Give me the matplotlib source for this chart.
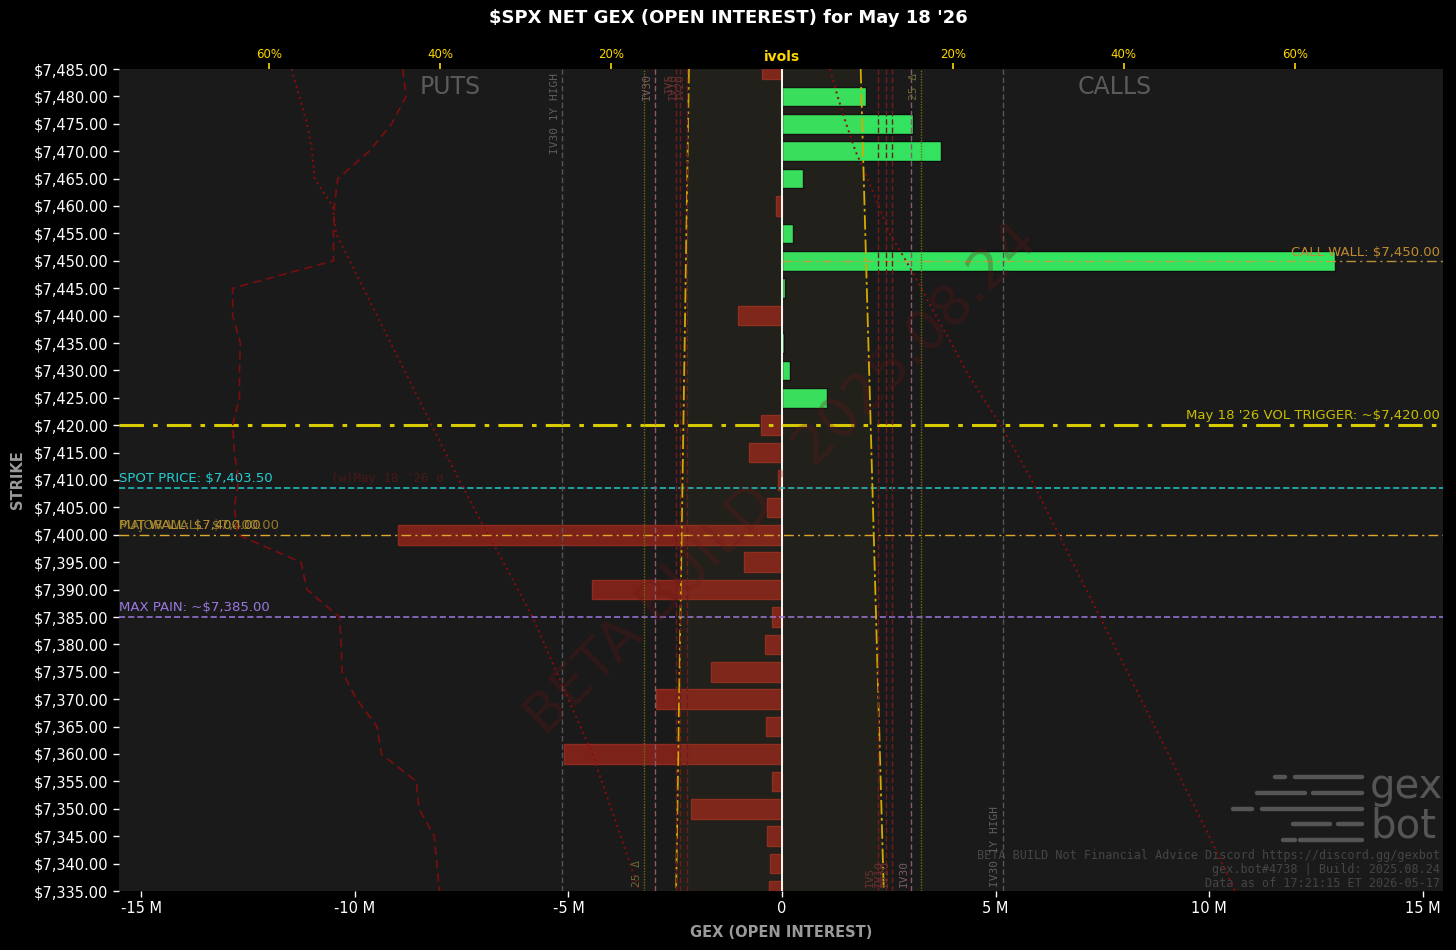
import matplotlib
matplotlib.use("Agg")
import matplotlib.pyplot as plt
from matplotlib.lines import Line2D
import numpy as np

# --- data ---
strikes = [7485, 7480, 7475, 7470, 7465, 7460, 7455, 7450, 7445, 7440, 7435, 7430, 7425,
           7420, 7415, 7410, 7405, 7400, 7395, 7390, 7385, 7380, 7375, 7370, 7365, 7360,
           7355, 7350, 7345, 7340, 7335]
net_gex_m = [-0.47, 1.97, 3.07, 3.72, 0.49, -0.14, 0.26, 12.94, 0.07, -1.03, 0.05, 0.19, 1.05,
             -0.49, -0.77, -0.09, -0.35, -8.99, -0.89, -4.45, -0.23, -0.40, -1.66, -2.95, -0.37,
             -5.10, -0.23, -2.13, -0.35, -0.28, -0.30]
# put-side iv curves (percent, drawn mirrored to the left)
put_iv_dashed = [44.4, 44.0, 45.7, 48.3, 52.0, 52.4, 52.5, 52.5, 64.3, 64.3, 63.4, 63.5, 63.5,
                 64.3, 64.1, 63.6, 64.1, 63.7, 56.3, 55.6, 51.8, 51.6, 51.5, 49.8, 47.4, 46.9,
                 42.8, 42.5, 40.7, 40.4, 40.1]
put_iv_dotted = [57.4, 56.5, 55.6, 55.0, 54.7, 52.6, 52.2, 50.6, 49.0, 47.4, 45.8, 44.2, 42.6,
                 41.0, 39.4, 37.8, 36.1, 34.4, 32.6, 30.9, 29.2, 27.8, 26.4, 25.0, 23.6, 22.2,
                 21.1, 20.0, 18.9, 17.8, 16.7]
call_iv_dotted = [5.6, 6.5, 7.5, 8.6, 10.0, 11.3, 12.6, 14.5, 16.3, 18.0, 19.8, 21.5, 23.5,
                  25.6, 27.4, 29.2, 30.8, 32.4, 34.0, 35.6, 37.2, 38.8, 40.4, 42.0, 43.6, 45.2,
                  46.8, 48.4, 50.0, 51.5, 53.0]
cone_strikes = [7485, 7335]
cone_put = [10.9, 12.4]
cone_call = [9.2, 11.9]

level_names = ["IV30 1Y HIGH", "25 Δ", "IV30", "IV5", "IV10", "IV20"]
put_levels = [25.7, 16.1, 14.9, 12.4, 11.9, 11.1]
call_levels = [25.8, 16.3, 15.1, 11.2, 12.2, 12.9]

spot_line = 7408.5
spot_label = "SPOT PRICE: $7,403.50"
put_wall = 7400
call_wall = 7450
max_pain = 7385
vol_trigger = 7420

BG = "#000000"
PANEL = "#1a1a1a"

fig = plt.figure(figsize=(14.56, 9.5), dpi=100, facecolor=BG)
ax = fig.add_axes([119 / 1456, 1 - 891 / 950, 1324 / 1456, 822 / 950])
ax.set_facecolor(PANEL)

xlim = (-15.52e6, 15.47e6)
ylim = (7335, 7485)

gex = np.array(net_gex_m) * 1e6
colors = ["#33e35f" if v >= 0 else "#7d2219" for v in gex]
edges = ["#0d0d0d" if v >= 0 else "#8e2a1f" for v in gex]
ax.barh(strikes, gex, height=3.6, color=colors, edgecolor=edges, linewidth=1, zorder=2)
ax.axvline(0, color="white", lw=1.4, zorder=4)

# horizontal levels
zero_frac = -xlim[0] / (xlim[1] - xlim[0])
ax.axhline(vol_trigger, color="#d8cc00", lw=2.2, ls=(0, (8, 3, 1.5, 3)), zorder=5)
ax.axhline(spot_line, color="#1fc8cc", lw=1.1, ls=(0, (4, 2)), zorder=5)
ax.axhline(put_wall, color="#e0a82a", lw=1.0, ls=(0, (7, 3, 1.5, 3)), zorder=5)
ax.axhline(max_pain, color="#9a78e0", lw=1.1, ls=(0, (4, 2)), zorder=5)
ax.axhline(call_wall, xmin=zero_frac, color="#c8a040", lw=1.0, ls=(0, (7, 3, 1.5, 3)),
           alpha=0.9, zorder=5)

lab = dict(fontsize=9.5, zorder=6, parse_math=False)
xl = xlim[0]
ax.text(xl, spot_line + 0.6, spot_label, color="#22d0d4", ha="left", va="bottom", **lab)
ax.text(xl, put_wall + 0.6, "PUT WALL: $7,400.00", color="#b89030", ha="left", va="bottom", **lab)
ax.text(xl, put_wall + 0.6, "MAJOR WALL: $7,400.00", color="#a88a30", ha="left", va="bottom",
        alpha=0.85, **lab)
ax.text(xl, max_pain + 0.6, "MAX PAIN: ~$7,385.00", color="#9a78e0", ha="left", va="bottom", **lab)
ax.text(xlim[1] - 0.08e6, vol_trigger + 0.6, "May 18 '26 VOL TRIGGER: ~$7,420.00",
        color="#c8be00", ha="right", va="bottom", **lab)
ax.text(xlim[1] - 0.08e6, call_wall + 0.3, "CALL WALL: $7,450.00", color="#c08a30",
        ha="right", va="bottom", **lab)
ax.text(-10.55e6, spot_line + 0.6, "(w)May 18 '26 σ", color="#4a1818", ha="left", va="bottom",
        fontsize=9, family="DejaVu Sans Mono", parse_math=False, zorder=3)

ax.text(-7.77e6, 7481.7, "PUTS", color="#5a5a5a", fontsize=17, ha="center", va="center", zorder=3)
ax.text(7.79e6, 7481.7, "CALLS", color="#5a5a5a", fontsize=17, ha="center", va="center", zorder=3)

# watermark
ax.text(0.5, 0.5, "BETA BUILD · 2025.08.24", transform=ax.transAxes, rotation=45,
        fontsize=40, color="#6a1414", alpha=0.28, ha="center", va="center",
        rotation_mode="anchor", zorder=7)

# footer
foot = dict(transform=ax.transAxes, family="DejaVu Sans Mono", fontsize=8.5, color="#454545",
            ha="right", va="center", zorder=7, parse_math=False)
ax.text(0.998, 1 - (855 - 69) / 822, "BETA BUILD Not Financial Advice Discord https://discord.gg/gexbot", **foot)
ax.text(0.998, 1 - (870 - 69) / 822, "gex.bot#4738 | Build: 2025.08.24", **foot)
ax.text(0.998, 1 - (884 - 69) / 822, "Data as of 17:21:15 ET 2026-05-17", **foot)

# gexbot logo (decoration)
logo_rows = [(777, [(1275, 1285), (1295, 1362)]),
             (793, [(1257, 1305), (1313, 1362)]),
             (809, [(1233, 1252), (1262, 1362)]),
             (824, [(1293, 1330), (1338, 1362)]),
             (840, [(1283, 1295), (1300, 1362)])]
for yy, segs in logo_rows:
    for x0, x1 in segs:
        ax.add_line(Line2D([(x0 - 119) / 1324, (x1 - 119) / 1324],
                           [1 - (yy - 69) / 822] * 2, transform=ax.transAxes,
                           color="#555555", lw=3.2, solid_capstyle="round", zorder=7))
ax.text((1370 - 119) / 1324, 1 - (787 - 69) / 822, "gex", transform=ax.transAxes, fontsize=29,
        color="#555555", ha="left", va="center", zorder=7)
ax.text((1370 - 119) / 1324, 1 - (826 - 69) / 822, "bot", transform=ax.transAxes, fontsize=29,
        color="#555555", ha="left", va="center", zorder=7)

ax.set_xlim(*xlim)
ax.set_ylim(*ylim)
ax.set_yticks(strikes)
ax.set_yticklabels([f"\\${s:,.2f}" for s in strikes])
xt = np.arange(-15, 16, 5)
ax.set_xticks(xt * 1e6)
ax.set_xticklabels([f"{v} M" if v != 0 else "0" for v in xt])
ax.tick_params(colors="white", labelsize=10.5, length=4, width=1)
for s in ax.spines.values():
    s.set_visible(False)
ax.set_xlabel("GEX (OPEN INTEREST)", color="#9a9a9a", fontsize=10.5, fontweight="bold", labelpad=6)
ax.set_ylabel("STRIKE", color="#9a9a9a", fontsize=10.5, fontweight="bold", labelpad=6)

# ivols axis on top
ax2 = ax.twiny()
ax2.set_xlim(xlim[0] / 2e5, xlim[1] / 2e5)
for s in ax2.spines.values():
    s.set_visible(False)
ivt = [-60, -40, -20, 20, 40, 60]
ax2.set_xticks(ivt)
ax2.set_xticklabels([f"{abs(v)}%" for v in ivt])
ax2.tick_params(colors="#ffd700", labelsize=8.5, length=4, width=1.2, pad=2)
ax2.text(0, 1.006, "ivols", transform=ax2.get_xaxis_transform(), color="#ffd700",
         fontsize=10, fontweight="bold", ha="center", va="bottom")

ax2.plot([-v for v in put_iv_dashed], strikes, color="#7a0e0e", lw=1.2, ls=(0, (5, 3)))
ax2.plot([-v for v in put_iv_dotted], strikes, color="#8c0c0c", lw=1.4, ls=(0, (1, 2)))
ax2.plot(call_iv_dotted, strikes, color="#8c0c0c", lw=1.4, ls=(0, (1, 2)))

cp = [-v for v in cone_put]
ax2.fill_betweenx(cone_strikes, cp, cone_call, color="#b09040", alpha=0.05, lw=0)
ax2.plot(cp, cone_strikes, color="#d4aa00", lw=1.3, ls=(0, (8, 2, 1.5, 2)))
ax2.plot(cone_call, cone_strikes, color="#d4aa00", lw=1.3, ls=(0, (8, 2, 1.5, 2)))

lvl_style = {"IV30 1Y HIGH": ("#555555", (0, (4, 2)), "#5e5e5e"),
             "25 Δ": ("#6e6e10", (0, (1, 1)), "#6a6a38"),
             "IV30": ("#8c5a68", (0, (4, 2)), "#7a5c62"),
             "IV5": ("#6e1c1c", (0, (4, 2)), "#6a3030"),
             "IV10": ("#6e1c1c", (0, (4, 2)), "#6a3030"),
             "IV20": ("#6e1c1c", (0, (4, 2)), "#6a3030")}
trans = ax2.get_xaxis_transform()
for name, pv, cv in zip(level_names, put_levels, call_levels):
    lc, ls, tc = lvl_style[name]
    ax2.axvline(-pv, color=lc, lw=1, ls=ls)
    ax2.axvline(cv, color=lc, lw=1, ls=ls)
    put_top = name != "25 Δ"
    ax2.text(-pv - 0.3, 0.995 if put_top else 0.005, name, transform=trans, rotation=90,
             ha="right", va="top" if put_top else "bottom", color=tc, fontsize=8,
             family="DejaVu Sans Mono")
    ax2.text(cv - 0.3, 0.005 if put_top else 0.995, name, transform=trans, rotation=90,
             ha="right", va="bottom" if put_top else "top", color=tc, fontsize=8,
             family="DejaVu Sans Mono")

fig.text(0.5, 1 - 18 / 950, "\\$SPX NET GEX (OPEN INTEREST) for May 18 '26", color="white",
         fontsize=13, fontweight="bold", ha="center", va="center")

fig.savefig("out.png", dpi=100, facecolor=BG)
